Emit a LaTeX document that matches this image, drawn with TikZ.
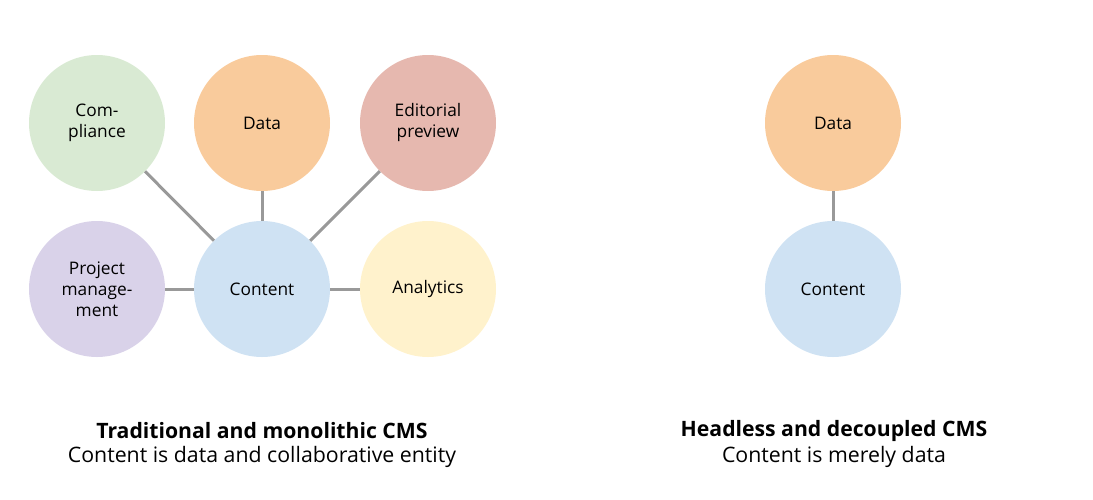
\documentclass[tikz,border=0pt]{standalone}
\usepackage{fontspec}
\setmainfont{Open Sans}
\usepackage{xcolor}

\definecolor{cgreen}{HTML}{D9EAD3}
\definecolor{corange}{HTML}{F9CB9C}
\definecolor{cred}{HTML}{E6B8AF}
\definecolor{cpurple}{HTML}{D9D2E9}
\definecolor{cblue}{HTML}{CFE2F3}
\definecolor{cyellow}{HTML}{FFF2CC}
\definecolor{linkgray}{HTML}{999999}

\begin{document}
\begin{tikzpicture}[x=1pt,y=-1pt,
  bubble/.style={circle,minimum size=136pt,inner sep=0pt,align=center,
    font=\fontsize{17.3}{21}\selectfont},
  link/.style={draw=linkgray,line width=3pt},
  heading/.style={font=\fontsize{21.2}{24}\selectfont\bfseries},
  caption/.style={font=\fontsize{21.3}{24}\selectfont}]

\useasboundingbox (0,0) rectangle (1093,499);

% traditional CMS
\node[bubble,fill=cgreen] (comp) at (97,123) {Com-\\pliance};
\node[bubble,fill=corange] (data) at (262,123) {Data};
\node[bubble,fill=cred] (edit) at (428,123) {Editorial\\preview};
\node[bubble,fill=cpurple] (proj) at (97,289) {Project\\manage-\\ment};
\node[bubble,fill=cblue] (cont) at (262,289) {Content};
\node[bubble,fill=cyellow] (anal) at (428,289) {Analytics};

\draw[link] (comp) -- (cont);
\draw[link] (data) -- (cont);
\draw[link] (edit) -- (cont);
\draw[link] (proj) -- (cont);
\draw[link] (anal) -- (cont);

\node[heading] (t1) at (262,431) {Traditional and monolithic CMS};
\node[caption] (s1) at (262,457) {Content is data and collaborative entity};

% headless CMS
\node[bubble,fill=corange] (hdata) at (833,123) {Data};
\node[bubble,fill=cblue] (hcont) at (833,289) {Content};

\draw[link] (hdata) -- (hcont);

\node[heading] (t2) at (834,431) {Headless and decoupled CMS};
\node[caption] (s2) at (834,457) {Content is merely data};

\end{tikzpicture}
\end{document}
